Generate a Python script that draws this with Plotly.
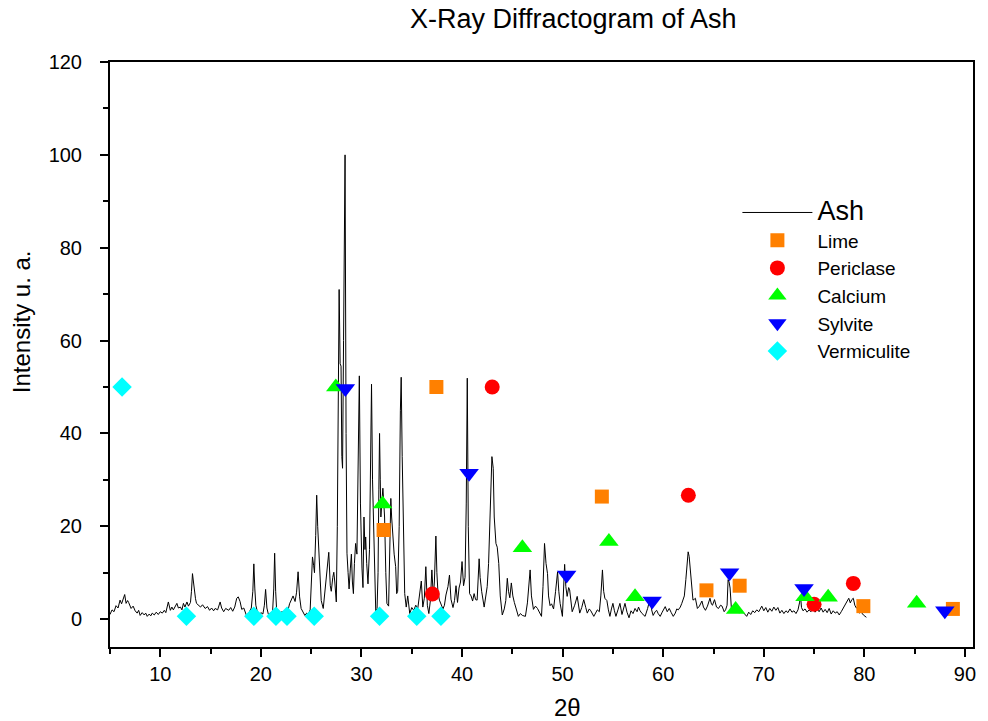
import plotly.graph_objects as go

# ---------------- data ----------------
ash_points = [
    (5.0,1.0),(5.2,2.0),(5.4,1.6),(5.6,2.9),(5.8,2.4),(6.0,4.1),(6.15,3.3),(6.3,4.3),(6.46,5.3),(6.6,3.4),
    (6.75,4.0),(6.85,3.6),(7.0,2.8),(7.1,2.3),(7.3,2.8),(7.5,1.8),(7.7,1.3),(7.85,1.9),(8.0,0.8),(8.2,1.4),
    (8.4,0.9),(8.55,1.3),(8.7,0.6),(8.9,1.1),(9.05,0.7),(9.2,1.3),(9.4,0.9),(9.6,1.5),(9.8,1.0),(10.0,1.6),
    (10.2,1.3),(10.4,1.9),(10.55,1.4),(10.8,3.7),(11.0,1.9),(11.15,2.6),(11.3,2.0),(11.5,2.9),(11.65,3.4),(11.8,2.4),
    (12.0,2.6),(12.15,2.0),(12.3,3.4),(12.45,2.6),(12.65,3.7),(12.8,2.8),(13.0,3.6),(13.1,6.0),(13.2,9.8),(13.3,8.0),
    (13.4,5.9),(13.5,4.4),(13.6,3.4),(13.8,3.0),(14.0,2.6),(14.2,3.1),(14.46,2.3),(14.7,2.7),(14.9,1.9),(15.1,2.4),
    (15.3,1.8),(15.45,2.3),(15.7,2.0),(15.95,3.7),(16.1,2.4),(16.3,1.6),(16.5,2.3),(16.8,1.9),(17.0,2.5),(17.2,1.7),
    (17.4,2.6),(17.6,4.5),(17.75,4.8),(17.93,3.8),(18.1,2.1),(18.3,2.4),(18.45,1.4),(18.6,0.6),(18.8,1.3),(19.05,2.4),
    (19.2,6.0),(19.3,11.9),(19.4,6.5),(19.5,3.0),(19.65,1.6),(19.8,0.9),(20.0,1.4),(20.2,1.1),(20.35,3.0),(20.47,6.4),
    (20.6,2.4),(20.75,1.0),(20.95,1.3),(21.15,1.0),(21.28,6.5),(21.37,14.2),(21.47,6.0),(21.58,1.4),(21.75,1.8),(21.9,1.1),
    (22.1,1.7),(22.25,1.4),(22.4,1.3),(22.55,2.2),(22.7,1.9),(22.85,3.3),(23.05,4.1),(23.2,5.0),(23.4,3.8),(23.55,5.8),
    (23.7,10.2),(23.85,4.8),(24.0,2.3),(24.2,1.3),(24.37,0.8),(24.55,1.3),(24.7,1.0),(24.9,2.0),(25.0,7.0),(25.13,13.4),
    (25.25,11.5),(25.33,10.0),(25.45,18.0),(25.55,26.7),(25.65,20.0),(25.8,12.0),(25.9,6.5),(26.0,4.0),(26.2,2.3),(26.4,7.2),
    (26.55,9.4),(26.75,14.4),(26.9,7.2),(27.0,6.0),(27.15,9.0),(27.25,10.1),(27.35,8.0),(27.5,3.7),(27.6,20.0),(27.7,50.0),
    (27.78,71.0),(27.88,55.0),(27.97,54.5),(28.05,35.0),(28.12,32.5),(28.22,60.0),(28.37,100.0),(28.47,40.0),(28.56,14.2),(28.67,10.0),
    (28.77,6.5),(28.9,11.0),(29.0,14.0),(29.1,8.0),(29.2,5.5),(29.3,12.0),(29.42,16.3),(29.55,14.0),(29.65,30.0),(29.79,52.4),
    (29.9,25.0),(29.96,17.0),(30.05,11.0),(30.15,6.8),(30.25,22.0),(30.35,15.0),(30.42,17.7),(30.52,12.0),(30.65,7.6),(30.8,15.0),
    (30.9,38.0),(31.0,50.6),(31.1,30.0),(31.24,16.0),(31.32,5.0),(31.42,1.8),(31.55,2.3),(31.65,10.0),(31.73,28.0),(31.8,40.0),
    (31.87,30.0),(31.93,22.0),(32.02,25.0),(32.13,28.2),(32.22,25.0),(32.3,22.0),(32.42,10.0),(32.53,3.4),(32.7,2.8),(32.8,12.0),
    (32.92,26.0),(33.0,22.0),(33.1,17.7),(33.25,14.0),(33.4,11.3),(33.5,5.5),(33.6,6.0),(33.75,20.0),(33.87,45.0),(33.95,52.1),
    (34.05,35.0),(34.2,18.5),(34.3,5.5),(34.45,2.6),(34.6,5.0),(34.8,1.2),(35.0,2.5),(35.2,1.9),(35.4,3.0),(35.6,2.3),
    (35.8,5.2),(35.95,8.2),(36.1,2.6),(36.25,4.5),(36.4,11.3),(36.55,3.0),(36.7,1.2),(36.85,4.0),(37.0,10.6),(37.15,4.8),
    (37.25,8.0),(37.4,17.9),(37.5,10.0),(37.6,6.0),(37.75,4.1),(37.95,2.8),(38.1,2.2),(38.25,3.0),(38.4,5.2),(38.6,7.0),
    (38.75,9.5),(38.9,4.3),(39.1,2.5),(39.25,4.0),(39.4,7.2),(39.55,3.6),(39.7,6.7),(39.85,8.0),(40.0,12.4),(40.15,7.2),
    (40.3,9.0),(40.42,25.0),(40.52,51.9),(40.62,20.0),(40.75,5.5),(40.9,5.0),(41.05,3.9),(41.2,5.5),(41.35,4.2),(41.5,4.1),
    (41.6,8.0),(41.7,13.0),(41.8,9.0),(41.95,6.0),(42.2,2.6),(42.35,5.0),(42.5,7.0),(42.64,12.0),(42.8,21.3),(42.97,35.0),
    (43.1,32.5),(43.2,22.0),(43.37,16.3),(43.5,15.5),(43.65,12.0),(43.8,5.0),(44.0,0.9),(44.2,2.2),(44.35,4.0),(44.5,8.8),
    (44.62,6.0),(44.75,4.6),(44.9,7.8),(45.05,5.0),(45.2,3.6),(45.4,2.0),(45.6,0.6),(45.8,1.2),(46.0,0.8),(46.3,0.6),
    (46.5,3.5),(46.77,10.6),(46.9,5.0),(47.1,2.1),(47.3,2.8),(47.5,2.3),(47.7,1.5),(47.9,0.6),(48.05,7.0),(48.2,16.3),
    (48.35,12.0),(48.5,9.8),(48.6,5.0),(48.75,2.9),(48.9,3.3),(49.1,2.2),(49.3,6.0),(49.5,10.2),(49.62,6.0),(49.75,3.4),
    (49.98,0.6),(50.1,6.0),(50.2,11.8),(50.32,7.0),(50.45,4.9),(50.6,6.8),(50.7,6.3),(50.95,1.6),(51.2,3.0),(51.45,4.9),
    (51.7,1.3),(51.9,2.5),(52.1,4.2),(52.3,2.5),(52.45,1.3),(52.65,2.2),(52.8,1.8),(53.1,0.6),(53.3,1.4),(53.45,2.0),
    (53.65,1.6),(53.8,5.0),(53.96,10.6),(54.08,6.0),(54.2,4.5),(54.4,4.0),(54.55,2.0),(54.7,0.6),(54.85,2.2),(55.0,3.4),
    (55.15,1.8),(55.3,0.6),(55.5,2.0),(55.7,3.4),(55.9,1.0),(56.05,2.2),(56.2,3.4),(56.4,1.5),(56.6,0.3),(56.8,1.8),
    (57.0,1.2),(57.2,2.3),(57.4,1.6),(57.55,2.6),(57.7,1.8),(57.9,1.2),(58.2,0.6),(58.45,2.3),(58.7,4.5),(58.85,2.0),
    (59.0,0.8),(59.2,1.6),(59.35,1.9),(59.5,1.2),(59.7,0.6),(59.9,1.5),(60.05,2.0),(60.2,2.7),(60.4,1.6),(60.6,2.3),
    (60.8,1.4),(61.0,0.6),(61.2,1.3),(61.35,2.2),(61.5,2.0),(61.7,2.6),(61.85,3.4),(62.0,4.2),(62.1,5.0),(62.25,8.5),
    (62.36,11.3),(62.48,14.5),(62.58,13.5),(62.7,10.5),(62.85,6.0),(62.96,4.1),(63.1,4.3),(63.2,4.5),(63.4,2.3),(63.6,2.8),
    (63.85,3.9),(64.0,2.6),(64.2,1.9),(64.4,2.8),(64.65,4.5),(64.8,3.2),(64.9,3.0),(65.1,4.2),(65.3,2.6),(65.5,2.3),
    (65.7,3.0),(65.85,2.8),(66.06,1.6),(66.2,2.0),(66.35,3.0),(66.45,8.5),(66.55,8.0),(66.65,6.7),(66.8,1.6),(66.95,2.4),
    (67.1,1.5),(67.3,2.1),(67.55,1.3),(67.75,2.0),(67.9,1.6),(68.1,1.2),(68.3,0.6),(68.5,1.5),(68.7,1.0),(68.9,1.8),
    (69.1,1.4),(69.3,2.0),(69.5,1.6),(69.65,2.2),(69.8,2.8),(70.0,1.8),(70.2,2.5),(70.4,1.5),(70.6,2.3),(70.8,1.7),
    (71.0,2.6),(71.2,1.9),(71.4,2.5),(71.6,1.3),(71.8,1.9),(72.0,1.2),(72.2,1.8),(72.4,1.4),(72.6,2.2),(72.8,1.5),
    (73.0,1.8),(73.2,1.2),(73.4,2.0),(73.55,3.5),(73.65,5.0),(73.75,2.5),(73.9,1.8),(74.1,2.2),(74.3,1.5),(74.5,2.0),
    (74.7,1.6),(74.9,2.6),(75.1,1.5),(75.3,2.2),(75.5,1.6),(75.7,2.4),(75.9,1.5),(76.1,2.1),(76.3,1.4),(76.5,2.3),
    (76.7,1.1),(76.9,1.8),(77.1,1.3),(77.3,1.6),(77.5,0.9),(77.7,1.6),(77.9,2.4),(78.1,3.0),(78.3,3.8),(78.45,4.5),
    (78.6,3.5),(78.75,4.2),(78.9,4.5),(79.05,3.0),(79.2,2.4),(79.35,2.6),(79.5,1.3),(79.65,1.6),(79.9,0.9),(80.1,0.6),
    (80.2,0.4),
]
ash_x = [p[0] for p in ash_points]
ash_y = [p[1] for p in ash_points]

lime_x = [37.45, 32.2, 53.9, 64.3, 67.6, 79.9, 88.8]
lime_y = [50.0, 19.2, 26.4, 6.2, 7.2, 2.8, 2.2]

periclase_x = [43.0, 37.05, 62.5, 75.0, 78.9]
periclase_y = [50.0, 5.4, 26.7, 3.2, 7.7]

calcium_x = [27.45, 32.1, 46.0, 54.6, 57.2, 67.2, 74.1, 76.4, 85.2]
calcium_y = [50.0, 24.8, 15.4, 16.7, 4.8, 2.1, 4.8, 4.7, 3.4]

sylvite_x = [28.4, 40.7, 50.4, 58.9, 66.6, 74.0, 88.0]
sylvite_y = [49.7, 31.4, 9.5, 3.9, 10.0, 6.6, 1.8]

vermiculite_x = [6.2, 12.6, 19.3, 21.5, 22.6, 25.3, 31.8, 35.5, 37.9]
vermiculite_y = [50.0, 0.6, 0.6, 0.6, 0.6, 0.6, 0.6, 0.6, 0.6]

x_ticks = [10, 20, 30, 40, 50, 60, 70, 80, 90]
y_ticks = [0, 20, 40, 60, 80, 100, 120]

FONT = "Liberation Sans, Arial, sans-serif"

fig = go.Figure()
fig.add_trace(go.Scatter(x=ash_x, y=ash_y, mode="lines",
                         line=dict(color="black", width=1),
                         name="<span style='font-size:27px'>Ash</span>"))

marker_series = [
    ("Lime", lime_x, lime_y, "square", "#FF8000", 14),
    ("Periclase", periclase_x, periclase_y, "circle", "#FF0000", 15),
    ("Calcium", calcium_x, calcium_y, "triangle-up", "#00FF00", 17),
    ("Sylvite", sylvite_x, sylvite_y, "triangle-down", "#0000FF", 17),
    ("Vermiculite", vermiculite_x, vermiculite_y, "diamond", "#00FFFF", 15),
]
for name, xs, ys, sym, col, size in marker_series:
    fig.add_trace(go.Scatter(x=xs, y=ys, mode="markers", name=name,
                             marker=dict(symbol=sym, color=col, size=size,
                                         line=dict(width=0))))

axis_common = dict(showgrid=False, zeroline=False, showline=True, linecolor="black",
                   linewidth=2, ticks="outside", ticklen=8, tickwidth=2, tickcolor="black",
                   mirror=True, tickfont=dict(family=FONT, size=20, color="black"))

fig.update_xaxes(range=[5, 90.8], tickmode="array", tickvals=x_ticks,
                 minor=dict(dtick=5, tick0=0, ticks="outside", ticklen=5, tickwidth=2, tickcolor="black"),
                 **axis_common)
fig.update_yaxes(range=[-6, 120], tickmode="array", tickvals=y_ticks, ticklabelstandoff=14,
                 minor=dict(dtick=10, tick0=0, ticks="outside", ticklen=5, tickwidth=2, tickcolor="black"),
                 **axis_common)

fig.update_layout(
    width=988, height=721,
    margin=dict(l=110, r=13, t=62, b=74),
    paper_bgcolor="white", plot_bgcolor="white",
    font=dict(family=FONT, color="black"),
    showlegend=True,
    legend=dict(x=0.727, y=0.775, xanchor="left", yanchor="top",
                bgcolor="rgba(0,0,0,0)", borderwidth=0, itemwidth=70,
                font=dict(family=FONT, size=19, color="black")),
    annotations=[
        dict(text="X-Ray Diffractogram of Ash", xref="paper", yref="paper",
             x=0.5376, y=1.0735, xanchor="center", yanchor="middle", showarrow=False,
             font=dict(family=FONT, size=27, color="black")),
        dict(text="Intensity u. a.", xref="paper", yref="paper",
             x=-0.1017, y=0.5556, xanchor="center", yanchor="middle", showarrow=False,
             textangle=-90, font=dict(family=FONT, size=24, color="black")),
        dict(text="2θ", xref="paper", yref="paper",
             x=0.5306, y=-0.104, xanchor="center", yanchor="middle", showarrow=False,
             font=dict(family=FONT, size=24, color="black")),
    ],
)

fig.write_html("out.html")
